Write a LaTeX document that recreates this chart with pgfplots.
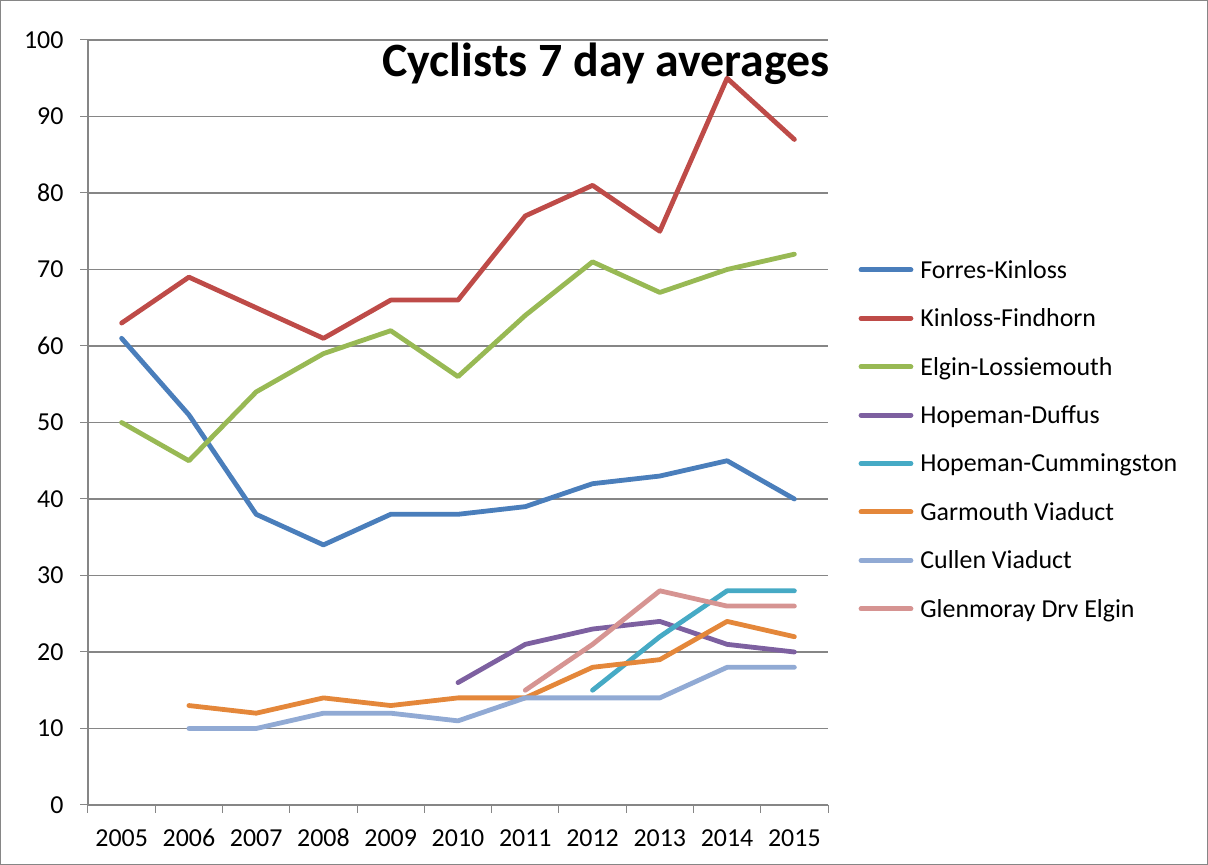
\documentclass[border=0pt]{standalone}
\usepackage{fontspec}
\setmainfont{Carlito}
\usepackage{pgfplots}
\pgfplotsset{compat=1.18}
\definecolor{axgray}{RGB}{134,134,134}
\definecolor{c1}{RGB}{74,126,187}
\definecolor{c2}{RGB}{190,75,72}
\definecolor{c3}{RGB}{152,185,84}
\definecolor{c4}{RGB}{125,96,160}
\definecolor{c5}{RGB}{70,170,197}
\definecolor{c6}{RGB}{228,135,58}
\definecolor{c7}{RGB}{145,170,212}
\definecolor{c8}{RGB}{214,148,146}
\begin{document}
\begin{tikzpicture}
\path[use as bounding box, draw=axgray, line width=1bp] (0.5bp,0.5bp) rectangle (1207.5bp,864.5bp);
\begin{axis}[
  at={(88bp,60bp)}, anchor=south west,
  scale only axis, width=740bp, height=765bp,
  xmin=-0.5, xmax=10.5, ymin=0, ymax=100,
  axis lines*=left,
  axis line style={-, draw=axgray, line width=1.2bp},
  xtick={0,...,10},
  xticklabels={2005,2006,2007,2008,2009,2010,2011,2012,2013,2014,2015},
  major x tick style={draw=none},
  minor xtick={-0.5,0.5,...,10.5},
  ytick={0,10,...,100},
  ymajorgrids,
  grid style={axgray, line width=1.2bp},
  tick align=outside,
  major tick length=8bp, minor tick length=8bp,
  tick style={axgray, line width=1bp},
  ticklabel style={font=\fontsize{26}{30}\selectfont},
  /pgf/number format/assume math mode=true,
  xticklabel style={yshift=-12bp, text height=18bp, text depth=0bp},
  yticklabel style={xshift=-13bp},
  every axis plot/.append style={line width=4.8bp, line cap=round, line join=round, no markers},
  legend style={at={(1.037,0.478)}, anchor=west, draw=none, fill=none,
    font=\fontsize{26}{30}\selectfont, row sep=25bp,
    /tikz/every odd column/.append style={column sep=5bp}},
  legend cell align=left,
  legend image code/.code={\draw[#1] (0bp,0bp) -- (50bp,0bp);},
  clip=false,
]
\addplot[c1] coordinates {(0,61)(1,51)(2,38)(3,34)(4,38)(5,38)(6,39)(7,42)(8,43)(9,45)(10,40)};
\addlegendentry{Forres-Kinloss}
\addplot[c2] coordinates {(0,63)(1,69)(2,65)(3,61)(4,66)(5,66)(6,77)(7,81)(8,75)(9,95)(10,87)};
\addlegendentry{Kinloss-Findhorn}
\addplot[c3] coordinates {(0,50)(1,45)(2,54)(3,59)(4,62)(5,56)(6,64)(7,71)(8,67)(9,70)(10,72)};
\addlegendentry{Elgin-Lossiemouth}
\addplot[c4] coordinates {(5,16)(6,21)(7,23)(8,24)(9,21)(10,20)};
\addlegendentry{Hopeman-Duffus}
\addplot[c5] coordinates {(7,15)(8,22)(9,28)(10,28)};
\addlegendentry{Hopeman-Cummingston}
\addplot[c6] coordinates {(1,13)(2,12)(3,14)(4,13)(5,14)(6,14)(7,18)(8,19)(9,24)(10,22)};
\addlegendentry{Garmouth Viaduct}
\addplot[c7] coordinates {(1,10)(2,10)(3,12)(4,12)(5,11)(6,14)(7,14)(8,14)(9,18)(10,18)};
\addlegendentry{Cullen Viaduct}
\addplot[c8] coordinates {(6,15)(7,21)(8,28)(9,26)(10,26)};
\addlegendentry{Glenmoray Drv Elgin}
\end{axis}
\node[anchor=base, font=\bfseries\fontsize{48}{56}\selectfont] at (606bp,788bp) {Cyclists 7 day averages};
\end{tikzpicture}
\end{document}
